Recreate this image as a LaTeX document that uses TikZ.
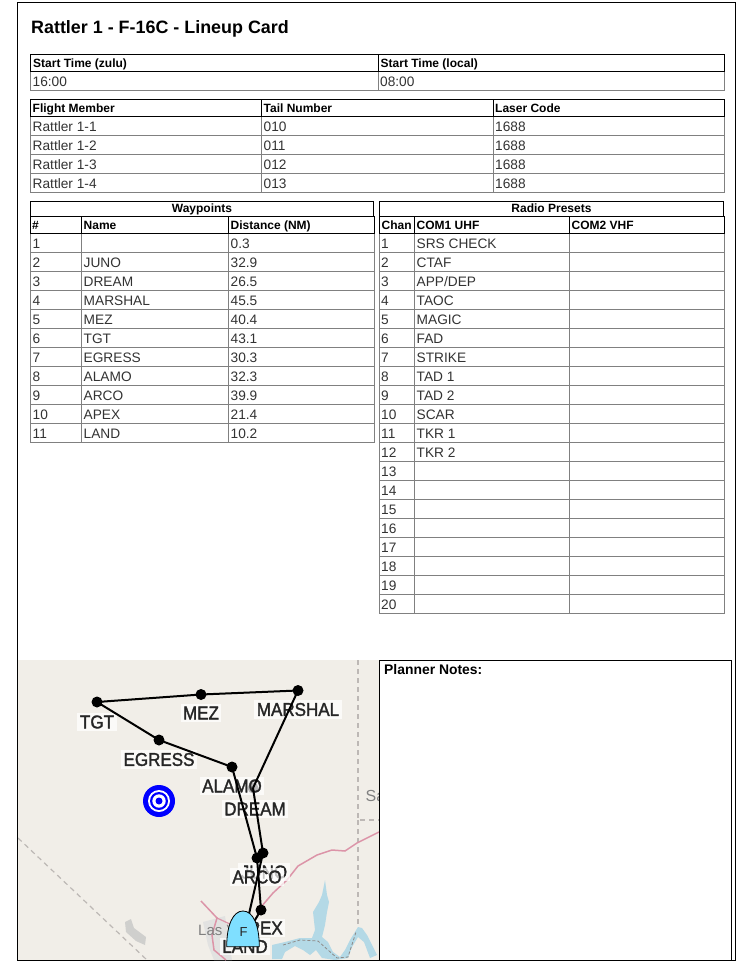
\documentclass[tikz,border=0pt]{standalone}
\usepackage{xcolor}
\usepackage{fontspec}
\setmainfont{Liberation Sans}
\newfontfamily\mapfont[FakeBold=1.6,FakeStretch=0.92]{Liberation Sans}
\usetikzlibrary{positioning}
\definecolor{mapbg}{HTML}{F1EEE8}
\definecolor{cellgray}{HTML}{808080}
\definecolor{bodygray}{HTML}{333333}
\definecolor{roadpink}{HTML}{DC94A8}
\definecolor{bordergray}{HTML}{BDB8B5}
\definecolor{lakeblue}{HTML}{B4D9E6}
\definecolor{cityblue}{HTML}{7FDFFF}
\definecolor{citygray}{HTML}{CFCFCD}
\tikzset{
    body_text/.style={anchor=base west, inner sep=0, text=bodygray, font=\fontsize{13.7}{16}\selectfont},
    head_text/.style={anchor=base west, inner sep=0, text=black, font=\bfseries\fontsize{12}{14}\selectfont},
    title_text/.style={anchor=base, inner sep=0, text=black, font=\bfseries\fontsize{12}{14}\selectfont},
    cell_line/.style={draw=cellgray, line width=1pt},
    head_line/.style={draw=black, line width=1pt},
    wp_dot/.style={circle, fill=black, inner sep=0, minimum size=11pt},
    wp_label/.style={fill=white, fill opacity=0.72, text opacity=1, text=black!85, inner sep=2.5pt, font=\mapfont\fontsize{18.5}{20}\selectfont},
    leg/.style={draw=black, line width=2pt},
}
\begin{document}
\begin{tikzpicture}[x=1pt, y=-1pt]
\useasboundingbox (0,0) rectangle (752,965);
\fill[white] (0,0) rectangle (752,965);

% outer frame
\draw[head_line] (17.5,2.5) rectangle (735.5,960.5);
\node[anchor=base west, inner sep=0, font=\bfseries\fontsize{17.9}{20}\selectfont] (card_title) at (31,34) {Rattler 1 - F-16C - Lineup Card};

% start times
\draw[cell_line] (30.5,71.5) rectangle (724.5,90.5);
\draw[cell_line] (378.5,71.5) -- (378.5,90.5);
\draw[head_line] (30.5,54.5) rectangle (724.5,71.5);
\draw[head_line] (378.5,54.5) -- (378.5,71.5);
\node[head_text] (start_zulu) at (33,67.5) {Start Time (zulu)};
\node[head_text] (start_local) at (380.5,67.5) {Start Time (local)};
\node[body_text] (time_zulu) at (32.5,86.5) {16:00};
\node[body_text] (time_local) at (380,86.5) {08:00};

% flight members
\draw[cell_line] (30.5,116.5) rectangle (724.5,192.5);
\draw[cell_line] (261.5,116.5) -- (261.5,192.5) (493.5,116.5) -- (493.5,192.5);
\draw[cell_line] (30.5,135.5) -- (724.5,135.5) (30.5,154.5) -- (724.5,154.5) (30.5,173.5) -- (724.5,173.5);
\draw[head_line] (30.5,99.5) rectangle (724.5,116.5);
\draw[head_line] (261.5,99.5) -- (261.5,116.5) (493.5,99.5) -- (493.5,116.5);
\node[head_text] (member_head) at (32.5,112.5) {Flight Member};
\node[head_text] (tail_head) at (263.5,112.5) {Tail Number};
\node[head_text] (laser_head) at (495,112.5) {Laser Code};
\node[body_text] (member_1) at (32.5,131.5) {Rattler 1-1};
\node[body_text] (tail_1) at (263.5,131.5) {010};
\node[body_text] (laser_1) at (495,131.5) {1688};
\node[body_text] (member_2) at (32.5,150.5) {Rattler 1-2};
\node[body_text] (tail_2) at (263.5,150.5) {011};
\node[body_text] (laser_2) at (495,150.5) {1688};
\node[body_text] (member_3) at (32.5,169.5) {Rattler 1-3};
\node[body_text] (tail_3) at (263.5,169.5) {012};
\node[body_text] (laser_3) at (495,169.5) {1688};
\node[body_text] (member_4) at (32.5,188.5) {Rattler 1-4};
\node[body_text] (tail_4) at (263.5,188.5) {013};
\node[body_text] (laser_4) at (495,188.5) {1688};

% waypoints table
\draw[cell_line] (30.5,233.5) rectangle (374.5,442.5);
\draw[cell_line] (81.5,233.5) -- (81.5,442.5) (228.5,233.5) -- (228.5,442.5);
\draw[cell_line] (30.5,252.5) -- (374.5,252.5) (30.5,271.5) -- (374.5,271.5) (30.5,290.5) -- (374.5,290.5)
    (30.5,309.5) -- (374.5,309.5) (30.5,328.5) -- (374.5,328.5) (30.5,347.5) -- (374.5,347.5)
    (30.5,366.5) -- (374.5,366.5) (30.5,385.5) -- (374.5,385.5) (30.5,404.5) -- (374.5,404.5)
    (30.5,423.5) -- (374.5,423.5);
\draw[head_line] (30.5,201.5) rectangle (373.5,216.5);
\draw[head_line] (30.5,216.5) rectangle (374.5,233.5);
\draw[head_line] (81.5,216.5) -- (81.5,233.5) (228.5,216.5) -- (228.5,233.5);
\node[title_text] (wp_title) at (202,212.5) {Waypoints};
\node[head_text] (wp_num_head) at (32,229.5) {\#};
\node[head_text] (wp_name_head) at (83.5,229.5) {Name};
\node[head_text] (wp_dist_head) at (230.5,229.5) {Distance (NM)};
\node[body_text] (wp_num_1) at (32.5,248.6) {1};
\node[body_text] (wp_dist_1) at (230.5,248.6) {0.3};
\node[body_text] (wp_num_2) at (32.5,267.6) {2};
\node[body_text] (wp_name_2) at (83.5,267.6) {JUNO};
\node[body_text] (wp_dist_2) at (230.5,267.6) {32.9};
\node[body_text] (wp_num_3) at (32.5,286.6) {3};
\node[body_text] (wp_name_3) at (83.5,286.6) {DREAM};
\node[body_text] (wp_dist_3) at (230.5,286.6) {26.5};
\node[body_text] (wp_num_4) at (32.5,305.6) {4};
\node[body_text] (wp_name_4) at (83.5,305.6) {MARSHAL};
\node[body_text] (wp_dist_4) at (230.5,305.6) {45.5};
\node[body_text] (wp_num_5) at (32.5,324.6) {5};
\node[body_text] (wp_name_5) at (83.5,324.6) {MEZ};
\node[body_text] (wp_dist_5) at (230.5,324.6) {40.4};
\node[body_text] (wp_num_6) at (32.5,343.6) {6};
\node[body_text] (wp_name_6) at (83.5,343.6) {TGT};
\node[body_text] (wp_dist_6) at (230.5,343.6) {43.1};
\node[body_text] (wp_num_7) at (32.5,362.6) {7};
\node[body_text] (wp_name_7) at (83.5,362.6) {EGRESS};
\node[body_text] (wp_dist_7) at (230.5,362.6) {30.3};
\node[body_text] (wp_num_8) at (32.5,381.6) {8};
\node[body_text] (wp_name_8) at (83.5,381.6) {ALAMO};
\node[body_text] (wp_dist_8) at (230.5,381.6) {32.3};
\node[body_text] (wp_num_9) at (32.5,400.6) {9};
\node[body_text] (wp_name_9) at (83.5,400.6) {ARCO};
\node[body_text] (wp_dist_9) at (230.5,400.6) {39.9};
\node[body_text] (wp_num_10) at (32.5,419.6) {10};
\node[body_text] (wp_name_10) at (83.5,419.6) {APEX};
\node[body_text] (wp_dist_10) at (230.5,419.6) {21.4};
\node[body_text] (wp_num_11) at (32.5,438.6) {11};
\node[body_text] (wp_name_11) at (83.5,438.6) {LAND};
\node[body_text] (wp_dist_11) at (230.5,438.6) {10.2};

% radio presets table
\draw[cell_line] (379.5,233.5) rectangle (724.5,613.5);
\draw[cell_line] (414.5,233.5) -- (414.5,613.5) (569.5,233.5) -- (569.5,613.5);
\draw[cell_line] (379.5,252.5) -- (724.5,252.5) (379.5,271.5) -- (724.5,271.5) (379.5,290.5) -- (724.5,290.5)
    (379.5,309.5) -- (724.5,309.5) (379.5,328.5) -- (724.5,328.5) (379.5,347.5) -- (724.5,347.5)
    (379.5,366.5) -- (724.5,366.5) (379.5,385.5) -- (724.5,385.5) (379.5,404.5) -- (724.5,404.5)
    (379.5,423.5) -- (724.5,423.5) (379.5,442.5) -- (724.5,442.5) (379.5,461.5) -- (724.5,461.5)
    (379.5,480.5) -- (724.5,480.5) (379.5,499.5) -- (724.5,499.5) (379.5,518.5) -- (724.5,518.5)
    (379.5,537.5) -- (724.5,537.5) (379.5,556.5) -- (724.5,556.5) (379.5,575.5) -- (724.5,575.5)
    (379.5,594.5) -- (724.5,594.5);
\draw[head_line] (379.5,201.5) rectangle (723.5,216.5);
\draw[head_line] (379.5,216.5) rectangle (724.5,233.5);
\draw[head_line] (414.5,216.5) -- (414.5,233.5) (569.5,216.5) -- (569.5,233.5);
\node[title_text] (radio_title) at (551.5,212.5) {Radio Presets};
\node[head_text] (chan_head) at (381.5,229.5) {Chan};
\node[head_text] (com1_head) at (416.5,229.5) {COM1 UHF};
\node[head_text] (com2_head) at (571.5,229.5) {COM2 VHF};
\node[body_text] (chan_1) at (381,248.6) {1};
\node[body_text] (com1_1) at (416.5,248.6) {SRS CHECK};
\node[body_text] (chan_2) at (381,267.6) {2};
\node[body_text] (com1_2) at (416.5,267.6) {CTAF};
\node[body_text] (chan_3) at (381,286.6) {3};
\node[body_text] (com1_3) at (416.5,286.6) {APP/DEP};
\node[body_text] (chan_4) at (381,305.6) {4};
\node[body_text] (com1_4) at (416.5,305.6) {TAOC};
\node[body_text] (chan_5) at (381,324.6) {5};
\node[body_text] (com1_5) at (416.5,324.6) {MAGIC};
\node[body_text] (chan_6) at (381,343.6) {6};
\node[body_text] (com1_6) at (416.5,343.6) {FAD};
\node[body_text] (chan_7) at (381,362.6) {7};
\node[body_text] (com1_7) at (416.5,362.6) {STRIKE};
\node[body_text] (chan_8) at (381,381.6) {8};
\node[body_text] (com1_8) at (416.5,381.6) {TAD 1};
\node[body_text] (chan_9) at (381,400.6) {9};
\node[body_text] (com1_9) at (416.5,400.6) {TAD 2};
\node[body_text] (chan_10) at (381,419.6) {10};
\node[body_text] (com1_10) at (416.5,419.6) {SCAR};
\node[body_text] (chan_11) at (381,438.6) {11};
\node[body_text] (com1_11) at (416.5,438.6) {TKR 1};
\node[body_text] (chan_12) at (381,457.6) {12};
\node[body_text] (com1_12) at (416.5,457.6) {TKR 2};
\node[body_text] (chan_13) at (381,476.6) {13};
\node[body_text] (chan_14) at (381,495.6) {14};
\node[body_text] (chan_15) at (381,514.6) {15};
\node[body_text] (chan_16) at (381,533.6) {16};
\node[body_text] (chan_17) at (381,552.6) {17};
\node[body_text] (chan_18) at (381,571.6) {18};
\node[body_text] (chan_19) at (381,590.6) {19};
\node[body_text] (chan_20) at (381,609.6) {20};

% map
\begin{scope}
\clip (18,660) rectangle (379,960);
\fill[mapbg] (18,660) rectangle (379,960);
\draw[bordergray, line width=1.2pt, dash pattern=on 5pt off 4pt] (18,838) -- (147,960);
\draw[bordergray, line width=1.2pt, dash pattern=on 5pt off 4pt] (358,660) -- (358,820) -- (379,820);
\draw[bordergray, line width=1.2pt, dash pattern=on 5pt off 4pt] (358,820) -- (358,928);
\fill[citygray] (125,922) -- (131,919) -- (134,928) -- (146,937) -- (145,945) -- (136,941) -- (126,932) -- cycle;
\fill[citygray!60] (203,922) -- (225,916) -- (232,960) -- (214,960) -- (208,945) -- cycle;
\draw[roadpink, line width=1.5pt] (379,832) -- (357,843) -- (345,851) -- (332,850) -- (317,855) -- (298,866) -- (287,880) -- (273,893) -- (261,907);
\draw[roadpink, line width=1.5pt] (201,901) -- (217,918) -- (212,935) -- (214,950) -- (226,960);
\draw[roadpink, line width=1.2pt] (217,918) -- (232,925);
\fill[lakeblue] (325,880) -- (327,895) -- (329,902) -- (327,912) -- (325,925) -- (322,937) -- (328,942) -- (333,952) -- (340,957) -- (345,950) -- (350,940) -- (358,927) -- (362,928) -- (367,935) -- (372,945) -- (377,955) -- (370,958) -- (364,942) -- (358,937) -- (352,947) -- (348,958) -- (335,960) -- (322,958) -- (316,950) -- (310,955) -- (303,950) -- (295,946) -- (285,952) -- (282,959) -- (272,959) -- (272,945) -- (285,942) -- (300,938) -- (312,938) -- (315,930) -- (313,912) -- (319,902) -- (322,895) -- cycle;
\draw[bordergray!75!black, line width=0.8pt, dash pattern=on 3pt off 2pt] (283,945) -- (300,940) -- (318,941) -- (328,950) -- (337,958) -- (348,957) -- (356,932);
\node[anchor=west, inner sep=0, text=gray, font=\fontsize{16}{18}\selectfont] (sa_text) at (365.5,796) {Sa};
\node[anchor=base west, inner sep=0, text=black!50, font=\fontsize{15}{18}\selectfont] (las_text) at (198,935) {Las V};

% target rings
\node[circle, fill=blue, minimum size=32pt, inner sep=0] (target_ring) at (159,801) {};
\node[circle, fill=white, minimum size=22pt, inner sep=0] (target_gap_1) at (159,801) {};
\node[circle, fill=blue, minimum size=18pt, inner sep=0] (target_mid) at (159,801) {};
\node[circle, fill=white, minimum size=13.4pt, inner sep=0] (target_gap_2) at (159,801) {};
\node[circle, fill=blue, minimum size=7pt, inner sep=0] (target_dot) at (159,801) {};

% route
\node[wp_dot] (wp_dream) at (253,788) {};
\node[wp_dot] (wp_land) at (243,940) {};
\node[wp_label] (lbl_tgt) at (97,722) {TGT};
\node[wp_label] (lbl_mez) at (201,713) {MEZ};
\node[wp_label] (lbl_marshal) at (298,709.5) {MARSHAL};
\node[wp_label] (lbl_egress) at (159,759.5) {EGRESS};
\node[wp_label] (lbl_alamo) at (232,786) {ALAMO};
\node[wp_label] (lbl_dream) at (255,809) {DREAM};
\node[wp_label] (lbl_juno) at (264,872) {JUNO};
\node[wp_label] (lbl_arco) at (257,877) {ARCO};
\node[wp_label] (lbl_apex) at (260,928) {APEX};
\node[wp_label] (lbl_land) at (245,946.5) {LAND};
\node[wp_dot] (wp_tgt) at (97,702) {};
\node[wp_dot] (wp_mez) at (201,694.5) {};
\node[wp_dot] (wp_marshal) at (298,690.5) {};
\node[wp_dot] (wp_egress) at (159,740) {};
\node[wp_dot] (wp_alamo) at (232,767) {};
\node[wp_dot] (wp_juno) at (263,853) {};
\node[wp_dot] (wp_arco) at (257,858) {};
\node[wp_dot] (wp_apex) at (261,910) {};
\draw[leg] (wp_land.center) -- (wp_juno.center);
\draw[leg] (wp_juno.center) -- (wp_dream.center);
\draw[leg] (wp_dream.center) -- (wp_marshal.center);
\draw[leg] (wp_marshal.center) -- (wp_mez.center);
\draw[leg] (wp_mez.center) -- (wp_tgt.center);
\draw[leg] (wp_tgt.center) -- (wp_egress.center);
\draw[leg] (wp_egress.center) -- (wp_alamo.center);
\draw[leg] (wp_alamo.center) -- (wp_arco.center);
\draw[leg] (wp_arco.center) -- (wp_apex.center);
\draw[leg] (wp_apex.center) -- (wp_land.center);

% flight symbol
\draw[fill=cityblue, draw=black, line width=0.8pt] (226.7,946.7) .. controls (226.7,925) and (233,911) .. (243,911) .. controls (253,911) and (259.3,925) .. (259.3,946.7) -- cycle;
\node[inner sep=0, text=black!85, font=\fontsize{13}{15}\selectfont] (flight_mark) at (243.5,932) {F};
\end{scope}

% planner notes
\draw[head_line] (379.5,660.5) rectangle (731.5,960.5);
\node[anchor=base west, inner sep=0, font=\bfseries\fontsize{13.9}{16}\selectfont] (notes_title) at (384,674) {Planner Notes:};

\end{tikzpicture}
\end{document}
